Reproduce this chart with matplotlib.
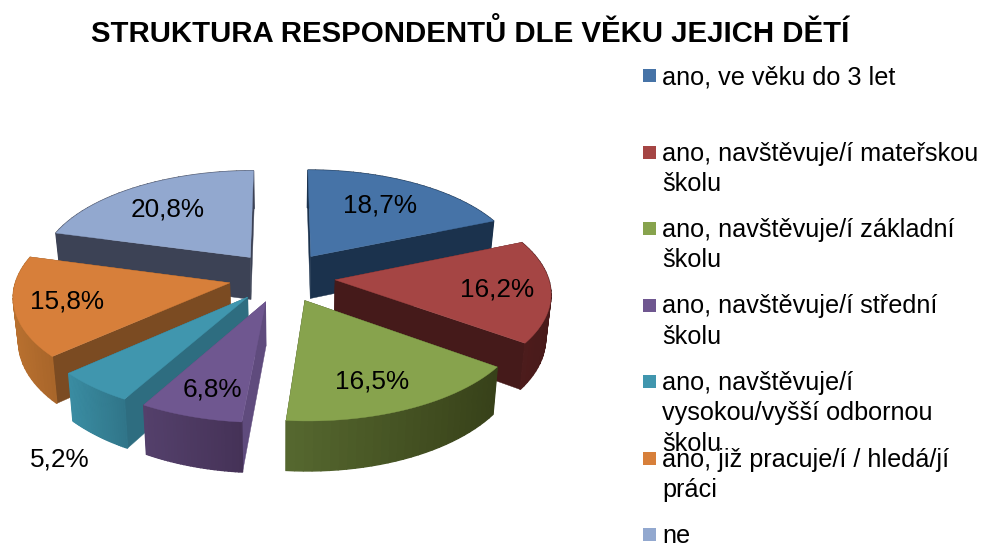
import numpy as np
import matplotlib.pyplot as plt
from matplotlib.patches import Polygon, Rectangle
from matplotlib.colors import to_rgb

plt.rcParams['font.family'] = ['Liberation Sans', 'DejaVu Sans']

title = 'STRUKTURA RESPONDENTŮ DLE VĚKU JEJICH DĚTÍ'
labels = ['ano, ve věku do 3 let',
          'ano, navštěvuje/í mateřskou\nškolu',
          'ano, navštěvuje/í základní\nškolu',
          'ano, navštěvuje/í střední\nškolu',
          'ano, navštěvuje/í\nvysokou/vyšší odbornou\nškolu',
          'ano, již pracuje/í / hledá/jí\npráci',
          'ne']
values = [18.7, 16.2, 16.5, 6.8, 5.2, 15.8, 20.8]
value_text = ['18,7%', '16,2%', '16,5%', '6,8%', '5,2%', '15,8%', '20,8%']

top_colors = ['#4673a7', '#a54544', '#87a34d', '#6f5790', '#4096ae', '#d77f3a', '#92a8cf']
edge_colors = ['#1b324d', '#451a1a', '#3a441c', '#5f4b7d', '#2e6d80', '#7b4b22', '#3c4255']
arc_left = ['#1b324d', '#4d1c1c', '#56682f', '#54406b', '#3a8ca2', '#b8702f', '#3c4255']
arc_right = ['#1b324d', '#481a1a', '#374119', '#453257', '#307588', '#a8652a', '#3c4255']
label_xy = [(380, 206), (497, 290), (372, 381), (212, 390), (60, 459), (67, 302), (168, 210)]
draw_order = [6, 0, 5, 1, 4, 3, 2]

# pie geometry in pixels
cx, cy = 282, 277
rx, ry = 213, 100.8
persp = 0.1146
explode = 0.25
depth = 43
bottom_scale = 0.98


def project(X, Y):
    s = 1 / (1 + persp * Y)
    return cx + rx * X * s, cy - ry * Y * s, s


def top_and_bottom(X, Y):
    x, y, s = project(X, Y)
    xb = cx + (x - cx) * bottom_scale
    return (x, y), (xb, y + depth * s)


fig = plt.figure(figsize=(9.81, 5.43), dpi=100)
ax = fig.add_axes([0, 0, 1, 1])
ax.set_xlim(0, 981)
ax.set_ylim(543, 0)
ax.axis('off')

ends = np.cumsum(values) / sum(values) * 2 * np.pi
starts = np.concatenate([[0], ends[:-1]])

z = 2.0
for i in draw_order:
    mid = (starts[i] + ends[i]) / 2
    ox, oy = explode * np.sin(mid), explode * np.cos(mid)
    ang = np.linspace(starts[i], ends[i], 30)
    rim = [top_and_bottom(ox + np.sin(a), oy + np.cos(a)) for a in ang]
    apex = top_and_bottom(ox, oy)

    # radial walls
    for p in (rim[0], rim[-1]):
        ax.add_patch(Polygon([apex[0], p[0], p[1], apex[1]], closed=True,
                             fc=edge_colors[i], ec=edge_colors[i], lw=0.3, zorder=z))
    # outer wall, shaded left to right
    xs = [p[0][0] for p in rim]
    c0, c1 = np.array(to_rgb(arc_left[i])), np.array(to_rgb(arc_right[i]))
    for p, q in zip(rim[:-1], rim[1:]):
        t = ((p[0][0] + q[0][0]) / 2 - min(xs)) / max(max(xs) - min(xs), 1)
        col = c0 + (c1 - c0) * t
        ax.add_patch(Polygon([p[0], q[0], q[1], p[1]], closed=True,
                             fc=col, ec=col, lw=1.0, zorder=z))
    # top face
    ax.add_patch(Polygon([apex[0]] + [p[0] for p in rim], closed=True,
                         fc=top_colors[i], ec=top_colors[i], lw=0.3, zorder=z + 0.001))
    z += 0.01

for txt, (x, y) in zip(value_text, label_xy):
    ax.text(x, y, txt, fontsize=18.8, ha='center', va='center', color='black', zorder=5)

ax.text(470, 34, title, fontsize=21.2, fontweight='bold', ha='center', va='center', color='black')

legend_top = 69
legend_step = 76.5
for i, lab in enumerate(labels):
    y = legend_top + i * legend_step
    ax.add_patch(Rectangle((643, y), 13, 13, fc=top_colors[i], ec='none', zorder=6))
    ax.text(662, y - 4, lab, fontsize=18.2, ha='left', va='top', linespacing=1.33,
            color='black', zorder=7, clip_on=False)

plt.savefig('out.png', dpi=100)
